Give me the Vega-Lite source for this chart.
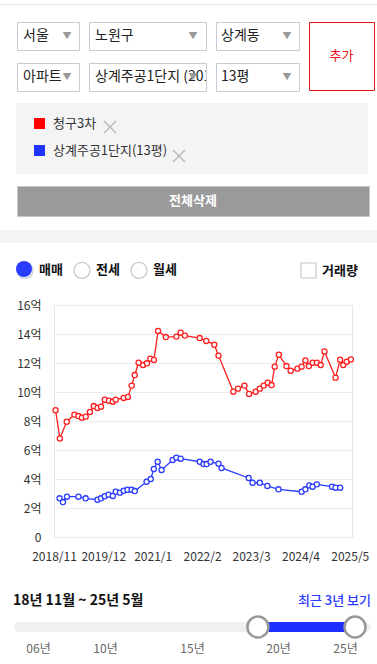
{
"$schema": "https://vega.github.io/schema/vega-lite/v6.json",
"background": "white",
"padding": 0,
"spacing": 0,
"config": {"font": "Noto Sans CJK KR", "view": {"stroke": null}},
"resolve": {"scale": {"color": "independent", "fill": "independent", "stroke": "independent", "shape": "independent"}},
"vconcat": [
 {"width": 1, "height": 4, "data": {"values": []}, "mark": "point", "encoding": {}},
 {"width": 377, "height": 1, "view": {"fill": "#e6e6e6", "stroke": null}, "data": {"values": []}, "mark": "point", "encoding": {}},
 {"width": 1, "height": 16, "data": {"values": []}, "mark": "point", "encoding": {}},
 {"hconcat": [
   {"width": 8, "height": 68, "data": {"values": []}, "mark": "point", "encoding": {}},
   {"vconcat": [
     {"hconcat": [
       {"width": 62, "height": 28, "view": {"fill": "white", "stroke": "#c8cbd3"}, "data": {"values": [{"label": "서울"}]}, "layer": [
         {"mark": {"type": "text", "align": "left", "dx": -25, "fontSize": 14, "color": "#222"}, "encoding": {"text": {"field": "label", "type": "nominal"}}},
         {"mark": {"type": "text", "text": "▼", "dx": 19, "fontSize": 9, "color": "#999"}, "encoding": {}}]},
       {"width": 117, "height": 28, "view": {"fill": "white", "stroke": "#c8cbd3"}, "data": {"values": [{"label": "노원구"}]}, "layer": [
         {"mark": {"type": "text", "align": "left", "dx": -52.5, "fontSize": 14, "color": "#222"}, "encoding": {"text": {"field": "label", "type": "nominal"}}},
         {"mark": {"type": "text", "text": "▼", "dx": 45.5, "fontSize": 9, "color": "#999"}, "encoding": {}}]},
       {"width": 83, "height": 28, "view": {"fill": "white", "stroke": "#c8cbd3"}, "data": {"values": [{"label": "상계동"}]}, "layer": [
         {"mark": {"type": "text", "align": "left", "dx": -36.5, "fontSize": 14, "color": "#222"}, "encoding": {"text": {"field": "label", "type": "nominal"}}},
         {"mark": {"type": "text", "text": "▼", "dx": 29.5, "fontSize": 9, "color": "#999"}, "encoding": {}}]}
     ], "spacing": 8},
     {"hconcat": [
       {"width": 62, "height": 28, "view": {"fill": "white", "stroke": "#c8cbd3"}, "data": {"values": [{"label": "아파트"}]}, "layer": [
         {"mark": {"type": "text", "align": "left", "dx": -25, "fontSize": 14, "color": "#222"}, "encoding": {"text": {"field": "label", "type": "nominal"}}},
         {"mark": {"type": "text", "text": "▼", "dx": 19, "fontSize": 9, "color": "#999"}, "encoding": {}}]},
       {"width": 117, "height": 28, "view": {"fill": "white", "stroke": "#c8cbd3"}, "data": {"values": [{"label": "상계주공1단지 (2018"}]}, "layer": [
         {"mark": {"type": "text", "align": "left", "dx": -52.5, "fontSize": 14, "color": "#222", "clip": true}, "encoding": {"text": {"field": "label", "type": "nominal"}}},
         {"mark": {"type": "text", "text": "▼", "dx": 45.5, "fontSize": 9, "color": "#999"}, "encoding": {}}]},
       {"width": 83, "height": 28, "view": {"fill": "white", "stroke": "#c8cbd3"}, "data": {"values": [{"label": "13평"}]}, "layer": [
         {"mark": {"type": "text", "align": "left", "dx": -36.5, "fontSize": 14, "color": "#222"}, "encoding": {"text": {"field": "label", "type": "nominal"}}},
         {"mark": {"type": "text", "text": "▼", "dx": 29.5, "fontSize": 9, "color": "#999"}, "encoding": {}}]}
     ], "spacing": 8}
   ], "spacing": 11},
   {"width": 65, "height": 68, "view": {"fill": "white", "stroke": "#e8141c"}, "data": {"values": [{"label": "추가"}]}, "mark": {"type": "text", "fontSize": 13, "color": "#e8141c"}, "encoding": {"text": {"field": "label", "type": "nominal"}}}
 ], "spacing": 8},
 {"width": 1, "height": 11, "data": {"values": []}, "mark": "point", "encoding": {}},
 {"hconcat": [
   {"width": 8, "height": 71, "data": {"values": []}, "mark": "point", "encoding": {}},
   {"width": 352, "height": 71, "view": {"fill": "#f4f4f4", "stroke": null},
    "layer": [
     {"data": {"values": [{"series": "청구3차"}, {"series": "상계주공1단지(13평)"}]},
      "mark": {"type": "point", "opacity": 0, "filled": true},
      "encoding": {"fill": {"field": "series", "type": "nominal",
        "scale": {"domain": ["청구3차", "상계주공1단지(13평)"], "range": ["#ff0000", "#1f35ff"]},
        "legend": {"orient": "none", "legendX": 17, "legendY": 14, "title": null, "direction": "vertical", "symbolType": "square", "symbolSize": 121, "symbolStrokeWidth": 0, "labelFontSize": 13, "labelColor": "#333", "labelOffset": 7, "rowPadding": 13, "padding": 0}}}},
     {"data": {"values": [{"del": "청구3차 삭제"}]},
      "mark": {"type": "point", "opacity": 0, "filled": false, "color": "#b4b4b4"},
      "encoding": {"shape": {"field": "del", "type": "nominal",
        "scale": {"domain": ["청구3차 삭제"], "range": ["M-1,-1L1,1M-1,1L1,-1"]},
        "legend": {"orient": "none", "legendX": 87, "legendY": 17, "title": null, "symbolSize": 144, "symbolStrokeColor": "#b4b4b4", "symbolFillColor": "transparent", "symbolStrokeWidth": 1.3, "labelExpr": "''", "labelOffset": 0, "padding": 0}}}},
     {"data": {"values": [{"del2": "상계주공1단지(13평) 삭제"}]},
      "mark": {"type": "point", "opacity": 0, "filled": false, "color": "#b4b4b4"},
      "encoding": {"shape": {"field": "del2", "type": "nominal",
        "scale": {"domain": ["상계주공1단지(13평) 삭제"], "range": ["M-1,-1L1,1M-1,1L1,-1"]},
        "legend": {"orient": "none", "legendX": 156, "legendY": 46, "title": null, "symbolSize": 144, "symbolStrokeColor": "#b4b4b4", "symbolFillColor": "transparent", "symbolStrokeWidth": 1.3, "labelExpr": "''", "labelOffset": 0, "padding": 0}}}}
    ],
    "resolve": {"scale": {"shape": "independent"}, "legend": {"shape": "independent", "fill": "independent"}}}
 ], "spacing": 8},
 {"width": 1, "height": 11, "data": {"values": []}, "mark": "point", "encoding": {}},
 {"hconcat": [
   {"width": 8, "height": 30, "data": {"values": []}, "mark": "point", "encoding": {}},
   {"width": 352, "height": 30, "view": {"fill": "#9a9a9a", "stroke": "#c6c6c6"}, "data": {"values": [{"label": "전체삭제"}]}, "mark": {"type": "text", "fontSize": 13, "fontWeight": "bold", "color": "white"}, "encoding": {"text": {"field": "label", "type": "nominal"}}}
 ], "spacing": 8},
 {"width": 1, "height": 13, "data": {"values": []}, "mark": "point", "encoding": {}},
 {"width": 377, "height": 13, "view": {"fill": "#f4f4f4", "stroke": null}, "data": {"values": []}, "mark": "point", "encoding": {}},
 {"width": 377, "height": 48,
  "layer": [
   {"data": {"values": [{"opt": "매매"}, {"opt": "전세"}, {"opt": "월세"}]},
    "mark": {"type": "point", "opacity": 0, "filled": false, "color": "#c5c8d0"},
    "encoding": {
      "fill": {"field": "opt", "type": "nominal",
        "scale": {"domain": ["매매", "전세", "월세"], "range": ["#ffffff", "#ffffff", "#ffffff"]},
        "legend": {"orient": "none", "legendX": 16, "legendY": 18, "direction": "horizontal", "title": null, "symbolType": "circle", "symbolSize": 256, "symbolStrokeColor": "#c5c8d0", "symbolStrokeWidth": 1.2, "labelFontSize": 13, "labelFontWeight": "bold", "labelColor": "#111", "labelOffset": 5, "columnPadding": 8, "padding": 0}}}},
   {"data": {"values": [{"sel": "매매 선택됨"}]},
    "mark": {"type": "point", "opacity": 0, "filled": true, "color": "#2a3cff"},
    "encoding": {"shape": {"field": "sel", "type": "nominal",
      "scale": {"domain": ["매매 선택됨"], "range": ["circle"]},
      "legend": {"orient": "none", "legendX": 16, "legendY": 18, "title": null, "symbolSize": 256, "symbolFillColor": "#2a3cff", "symbolStrokeWidth": 0, "labelExpr": "''", "labelOffset": 0, "padding": 0}}}},
   {"data": {"values": [{"sel2": "매매 선택 표시"}]},
    "mark": {"type": "point", "opacity": 0, "filled": true, "color": "#2a3cff"},
    "encoding": {"shape": {"field": "sel2", "type": "nominal",
      "scale": {"domain": ["매매 선택 표시"], "range": ["circle"]},
      "legend": {"orient": "none", "legendX": 19, "legendY": 21, "title": null, "symbolSize": 100, "symbolFillColor": "#2a3cff", "symbolStrokeColor": "#ffffff", "symbolStrokeWidth": 2, "labelExpr": "''", "labelOffset": 0, "padding": 0}}}},
   {"data": {"values": [{"chk": "거래량"}]},
    "mark": {"type": "point", "opacity": 0, "filled": false, "color": "#c5c8d0"},
    "encoding": {"shape": {"field": "chk", "type": "nominal",
      "scale": {"domain": ["거래량"], "range": ["square"]},
      "legend": {"orient": "none", "legendX": 300, "legendY": 19, "title": null, "symbolSize": 225, "symbolStrokeColor": "#c5c8d0", "symbolFillColor": "#ffffff", "symbolStrokeWidth": 1.2, "labelFontSize": 13, "labelFontWeight": "bold", "labelColor": "#111", "labelOffset": 5, "padding": 0}}}}
  ],
  "resolve": {"scale": {"shape": "independent"}, "legend": {"fill": "independent", "shape": "independent"}}},
 {"width": 1, "height": 7, "data": {"values": []}, "mark": "point", "encoding": {}},
 {"hconcat": [
 {"width": 1, "height": 1, "data": {"values": []}, "mark": "point", "encoding": {}},
 {"width": 298, "height": 232, "view": {"stroke": "#e6e6e6"},
  "data": {"values": [
    {"series": "청구3차", "date": "2018-11-14", "price": 8.74},
    {"series": "청구3차", "date": "2018-12-18", "price": 6.80},
    {"series": "청구3차", "date": "2019-02-11", "price": 7.95},
    {"series": "청구3차", "date": "2019-04-14", "price": 8.44},
    {"series": "청구3차", "date": "2019-05-16", "price": 8.34},
    {"series": "청구3차", "date": "2019-06-13", "price": 8.23},
    {"series": "청구3차", "date": "2019-07-13", "price": 8.30},
    {"series": "청구3차", "date": "2019-08-16", "price": 8.62},
    {"series": "청구3차", "date": "2019-09-16", "price": 9.03},
    {"series": "청구3차", "date": "2019-10-16", "price": 8.90},
    {"series": "청구3차", "date": "2019-11-13", "price": 8.99},
    {"series": "청구3차", "date": "2019-12-13", "price": 9.47},
    {"series": "청구3차", "date": "2020-01-16", "price": 9.40},
    {"series": "청구3차", "date": "2020-02-16", "price": 9.33},
    {"series": "청구3차", "date": "2020-03-10", "price": 9.47},
    {"series": "청구3차", "date": "2020-05-13", "price": 9.59},
    {"series": "청구3차", "date": "2020-06-16", "price": 9.66},
    {"series": "청구3차", "date": "2020-07-16", "price": 10.44},
    {"series": "청구3차", "date": "2020-08-10", "price": 11.17},
    {"series": "청구3차", "date": "2020-09-10", "price": 12.02},
    {"series": "청구3차", "date": "2020-10-16", "price": 11.86},
    {"series": "청구3차", "date": "2020-11-16", "price": 11.98},
    {"series": "청구3차", "date": "2020-12-13", "price": 12.30},
    {"series": "청구3차", "date": "2021-01-11", "price": 12.21},
    {"series": "청구3차", "date": "2021-02-13", "price": 14.21},
    {"series": "청구3차", "date": "2021-04-16", "price": 13.79},
    {"series": "청구3차", "date": "2021-07-10", "price": 13.82},
    {"series": "청구3차", "date": "2021-08-13", "price": 14.09},
    {"series": "청구3차", "date": "2021-09-16", "price": 13.89},
    {"series": "청구3차", "date": "2022-01-13", "price": 13.72},
    {"series": "청구3차", "date": "2022-03-07", "price": 13.52},
    {"series": "청구3차", "date": "2022-05-10", "price": 13.26},
    {"series": "청구3차", "date": "2022-06-13", "price": 12.51},
    {"series": "청구3차", "date": "2022-10-10", "price": 10.02},
    {"series": "청구3차", "date": "2022-11-16", "price": 10.23},
    {"series": "청구3차", "date": "2023-01-07", "price": 10.44},
    {"series": "청구3차", "date": "2023-02-13", "price": 9.87},
    {"series": "청구3차", "date": "2023-04-07", "price": 10.02},
    {"series": "청구3차", "date": "2023-05-10", "price": 10.23},
    {"series": "청구3차", "date": "2023-06-10", "price": 10.44},
    {"series": "청구3차", "date": "2023-07-13", "price": 10.64},
    {"series": "청구3차", "date": "2023-08-13", "price": 10.48},
    {"series": "청구3차", "date": "2023-09-07", "price": 11.75},
    {"series": "청구3차", "date": "2023-10-10", "price": 12.57},
    {"series": "청구3차", "date": "2023-12-10", "price": 11.79},
    {"series": "청구3차", "date": "2024-01-13", "price": 11.47},
    {"series": "청구3차", "date": "2024-03-07", "price": 11.61},
    {"series": "청구3차", "date": "2024-04-10", "price": 11.75},
    {"series": "청구3차", "date": "2024-05-10", "price": 12.18},
    {"series": "청구3차", "date": "2024-06-07", "price": 11.79},
    {"series": "청구3차", "date": "2024-07-07", "price": 12.02},
    {"series": "청구3차", "date": "2024-08-10", "price": 12.02},
    {"series": "청구3차", "date": "2024-09-10", "price": 11.86},
    {"series": "청구3차", "date": "2024-10-10", "price": 12.80},
    {"series": "청구3차", "date": "2025-01-07", "price": 10.99},
    {"series": "청구3차", "date": "2025-02-13", "price": 12.23},
    {"series": "청구3차", "date": "2025-03-10", "price": 11.86},
    {"series": "청구3차", "date": "2025-04-07", "price": 12.09},
    {"series": "청구3차", "date": "2025-05-10", "price": 12.25},
    {"series": "상계주공1단지(13평)", "date": "2018-12-16", "price": 2.67},
    {"series": "상계주공1단지(13평)", "date": "2019-01-12", "price": 2.41},
    {"series": "상계주공1단지(13평)", "date": "2019-02-13", "price": 2.78},
    {"series": "상계주공1단지(13평)", "date": "2019-05-16", "price": 2.78},
    {"series": "상계주공1단지(13평)", "date": "2019-07-13", "price": 2.67},
    {"series": "상계주공1단지(13평)", "date": "2019-10-16", "price": 2.57},
    {"series": "상계주공1단지(13평)", "date": "2019-11-13", "price": 2.67},
    {"series": "상계주공1단지(13평)", "date": "2019-12-13", "price": 2.81},
    {"series": "상계주공1단지(13평)", "date": "2020-01-13", "price": 2.92},
    {"series": "상계주공1단지(13평)", "date": "2020-02-16", "price": 2.83},
    {"series": "상계주공1단지(13평)", "date": "2020-03-10", "price": 3.12},
    {"series": "상계주공1단지(13평)", "date": "2020-04-13", "price": 3.06},
    {"series": "상계주공1단지(13평)", "date": "2020-05-13", "price": 3.19},
    {"series": "상계주공1단지(13평)", "date": "2020-06-13", "price": 3.26},
    {"series": "상계주공1단지(13평)", "date": "2020-07-16", "price": 3.26},
    {"series": "상계주공1단지(13평)", "date": "2020-08-10", "price": 3.17},
    {"series": "상계주공1단지(13평)", "date": "2020-11-13", "price": 3.81},
    {"series": "상계주공1단지(13평)", "date": "2020-12-16", "price": 4.00},
    {"series": "상계주공1단지(13평)", "date": "2021-01-10", "price": 4.69},
    {"series": "상계주공1단지(13평)", "date": "2021-02-10", "price": 5.19},
    {"series": "상계주공1단지(13평)", "date": "2021-03-13", "price": 4.62},
    {"series": "상계주공1단지(13평)", "date": "2021-06-10", "price": 5.31},
    {"series": "상계주공1단지(13평)", "date": "2021-07-10", "price": 5.47},
    {"series": "상계주공1단지(13평)", "date": "2021-08-13", "price": 5.40},
    {"series": "상계주공1단지(13평)", "date": "2022-01-13", "price": 5.19},
    {"series": "상계주공1단지(13평)", "date": "2022-02-13", "price": 5.03},
    {"series": "상계주공1단지(13평)", "date": "2022-03-10", "price": 5.03},
    {"series": "상계주공1단지(13평)", "date": "2022-04-10", "price": 5.19},
    {"series": "상계주공1단지(13평)", "date": "2022-06-13", "price": 5.06},
    {"series": "상계주공1단지(13평)", "date": "2022-07-07", "price": 4.76},
    {"series": "상계주공1단지(13평)", "date": "2023-02-10", "price": 4.07},
    {"series": "상계주공1단지(13평)", "date": "2023-03-13", "price": 3.74},
    {"series": "상계주공1단지(13평)", "date": "2023-05-10", "price": 3.74},
    {"series": "상계주공1단지(13평)", "date": "2023-07-10", "price": 3.52},
    {"series": "상계주공1단지(13평)", "date": "2023-10-07", "price": 3.29},
    {"series": "상계주공1단지(13평)", "date": "2024-04-10", "price": 3.12},
    {"series": "상계주공1단지(13평)", "date": "2024-05-10", "price": 3.29},
    {"series": "상계주공1단지(13평)", "date": "2024-06-10", "price": 3.56},
    {"series": "상계주공1단지(13평)", "date": "2024-07-07", "price": 3.47},
    {"series": "상계주공1단지(13평)", "date": "2024-08-10", "price": 3.63},
    {"series": "상계주공1단지(13평)", "date": "2024-12-10", "price": 3.47},
    {"series": "상계주공1단지(13평)", "date": "2025-01-07", "price": 3.40},
    {"series": "상계주공1단지(13평)", "date": "2025-02-13", "price": 3.40}
  ]},
  "encoding": {
    "x": {"field": "date", "type": "temporal", "scale": {"type": "utc", "domain": ["2018-11-01", "2025-05-19"]},
      "axis": {"values": [{"year": 2018, "month": 11, "date": 1, "utc": true}, {"year": 2019, "month": 12, "date": 1, "utc": true}, {"year": 2021, "month": 1, "date": 1, "utc": true}, {"year": 2022, "month": 2, "date": 1, "utc": true}, {"year": 2023, "month": 3, "date": 1, "utc": true}, {"year": 2024, "month": 4, "date": 1, "utc": true}, {"year": 2025, "month": 5, "date": 1, "utc": true}],
        "format": "%Y/%-m", "labelFontSize": 12, "labelColor": "#333", "labelPadding": 14, "ticks": false, "domain": false, "grid": false, "title": null, "labelOverlap": false, "labelFlush": false, "labelBound": false}},
    "y": {"field": "price", "type": "quantitative", "scale": {"domain": [0, 16], "nice": false},
      "axis": {"values": [0, 2, 4, 6, 8, 10, 12, 14, 16], "labelExpr": "datum.value === 0 ? '0' : datum.value + '억'", "labelFontSize": 12, "labelColor": "#333", "labelPadding": 13, "minExtent": 53, "maxExtent": 53, "ticks": false, "domain": false, "gridColor": "#ececec", "title": null}}
  },
  "layer": [
    {"mark": {"type": "line", "strokeWidth": 1.3},
     "encoding": {"color": {"field": "series", "type": "nominal",
       "scale": {"domain": ["청구3차", "상계주공1단지(13평)"], "range": ["#ff1e1e", "#2b3cff"]}, "legend": null}}},
    {"mark": {"type": "point", "filled": true, "fill": "white", "size": 26, "strokeWidth": 1.3, "opacity": 1},
     "encoding": {"stroke": {"field": "series", "type": "nominal",
       "scale": {"domain": ["청구3차", "상계주공1단지(13평)"], "range": ["#ff1e1e", "#2b3cff"]}, "legend": null}}}
  ]}
 ], "spacing": -1},
 {"width": 1, "height": 31, "data": {"values": []}, "mark": "point", "encoding": {}},
 {"width": 377, "height": 24,
  "data": {"values": [{"part": "전체 기간", "from": 2004.87, "to": 2026.55}, {"part": "선택 기간", "from": 2018.83, "to": 2025.75}]},
  "layer": [
    {"mark": {"type": "rule", "strokeWidth": 10, "strokeCap": "round"},
     "encoding": {
       "x": {"field": "from", "type": "quantitative", "scale": {"type": "linear", "domain": [2006, 2010, 2015, 2020, 2025], "range": [38, 105, 192, 278, 345], "nice": false, "zero": false},
         "axis": {"values": [2006, 2010, 2015, 2020, 2025], "labelExpr": "slice(toString(datum.value), 2) + '년'", "ticks": false, "domain": false, "grid": false, "labelFontSize": 12, "labelColor": "#666", "labelPadding": 4, "labelFlush": false, "labelBound": false, "labelOverlap": false, "title": null}},
       "x2": {"field": "to"},
       "color": {"field": "part", "type": "nominal", "scale": {"domain": ["전체 기간", "선택 기간"], "range": ["#eef0f2", "#1f2fff"]}, "legend": null}}},
    {"transform": [{"filter": "datum.part === '선택 기간'"}],
     "mark": {"type": "point", "filled": true, "fill": "white", "stroke": "#999999", "strokeWidth": 2.5, "size": 441, "opacity": 1},
     "encoding": {"x": {"field": "from", "type": "quantitative",
         "axis": {"values": [2006, 2010, 2015, 2020, 2025], "labelExpr": "slice(toString(datum.value), 2) + '년'", "ticks": false, "domain": false, "grid": false, "labelFontSize": 12, "labelColor": "#666", "labelPadding": 4, "labelFlush": false, "labelBound": false, "labelOverlap": false, "title": null}}}},
    {"transform": [{"filter": "datum.part === '선택 기간'"}],
     "mark": {"type": "point", "filled": true, "fill": "white", "stroke": "#999999", "strokeWidth": 2.5, "size": 441, "opacity": 1},
     "encoding": {"x": {"field": "to", "type": "quantitative",
         "axis": {"values": [2006, 2010, 2015, 2020, 2025], "labelExpr": "slice(toString(datum.value), 2) + '년'", "ticks": false, "domain": false, "grid": false, "labelFontSize": 12, "labelColor": "#666", "labelPadding": 4, "labelFlush": false, "labelBound": false, "labelOverlap": false, "title": null}}}},
    {"data": {"values": [{"t": "18년 11월 ~ 25년 5월"}]},
     "mark": {"type": "text", "align": "left", "dy": -26, "fontSize": 14, "fontWeight": "bold", "color": "#111"},
     "encoding": {"x": {"datum": 2004.51, "type": "quantitative",
         "axis": {"values": [2006, 2010, 2015, 2020, 2025], "labelExpr": "slice(toString(datum.value), 2) + '년'", "ticks": false, "domain": false, "grid": false, "labelFontSize": 12, "labelColor": "#666", "labelPadding": 4, "labelFlush": false, "labelBound": false, "labelOverlap": false, "title": null}}, "text": {"field": "t", "type": "nominal"}}},
    {"data": {"values": [{"t": "최근 3년 보기"}]},
     "mark": {"type": "text", "align": "right", "dy": -26, "fontSize": 13, "fontWeight": 500, "color": "#2a3cff"},
     "encoding": {"x": {"datum": 2026.94, "type": "quantitative",
         "axis": {"values": [2006, 2010, 2015, 2020, 2025], "labelExpr": "slice(toString(datum.value), 2) + '년'", "ticks": false, "domain": false, "grid": false, "labelFontSize": 12, "labelColor": "#666", "labelPadding": 4, "labelFlush": false, "labelBound": false, "labelOverlap": false, "title": null}}, "text": {"field": "t", "type": "nominal"}}}
  ]},
 {"width": 1, "height": 4, "data": {"values": []}, "mark": "point", "encoding": {}}
]
}
